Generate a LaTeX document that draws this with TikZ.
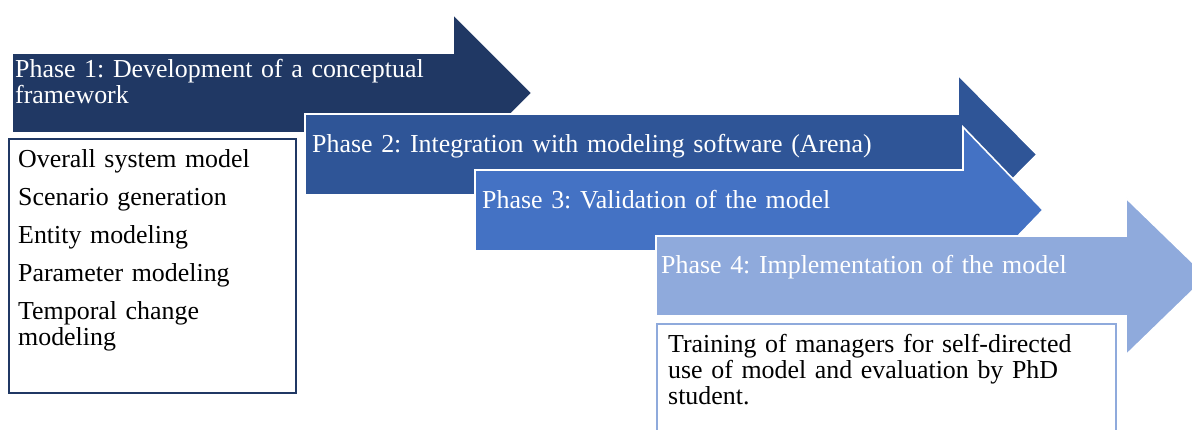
\documentclass[tikz,border=0pt]{standalone}
\usepackage{fontspec}
\setmainfont{Liberation Serif}
\frenchspacing
\definecolor{phaseA}{HTML}{203864}
\definecolor{phaseB}{HTML}{2F5597}
\definecolor{phaseC}{HTML}{4472C4}
\definecolor{phaseD}{HTML}{8FAADC}
\begin{document}
\begin{tikzpicture}[x=1pt,y=-1pt,
  phasearrow/.style={fill=#1,draw=white,line width=1.6pt,line join=miter},
  taskbox/.style={draw=#1,line width=1.8pt,fill=white},
  phasetext/.style={anchor=base west,inner sep=0pt,align=left,text width=640pt,
    text=#1,font=\fontsize{25.9}{26}\selectfont},
]
\useasboundingbox (0,0) rectangle (1192,430);
\begin{scope}
\clip (0,0) rectangle (1192,430);

% Phase 1 arrow
\filldraw[phasearrow=phaseA] (12,53) -- (453,53) -- (453,14) -- (532,93)
  -- (453,172) -- (453,133) -- (12,133) -- cycle;
\node[phasetext=white] (p1) at (15,77.5) {Phase 1: Development of a conceptual\\framework};

% Phase 2 arrow
\filldraw[phasearrow=phaseB] (305,114) -- (958,114) -- (958,75) -- (1037,154.5)
  -- (958,234) -- (958,195) -- (305,195) -- cycle;
\node[phasetext=white] (p2) at (312,152.5) {Phase 2: Integration with modeling software (Arena)};

% Phase 3 arrow
\filldraw[phasearrow=phaseC] (475,170) -- (963,170) -- (963,127) -- (1043,210)
  -- (963,293) -- (963,251) -- (475,251) -- cycle;
\node[phasetext=white] (p3) at (482,208.5) {Phase 3: Validation of the model};

% Phase 4 arrow
\filldraw[phasearrow=phaseD] (656,236) -- (1126,236) -- (1126,198) -- (1207,276.5)
  -- (1126,355) -- (1126,316) -- (656,316) -- cycle;
\node[phasetext=white] (p4) at (661,273.5) {Phase 4: Implementation of the model};

% Activity boxes
\draw[taskbox=phaseA] (9,139) rectangle (296,393);
\node[phasetext=black] (t1) at (18,168) {Overall system model\\[12pt]
  Scenario generation\\[12pt]
  Entity modeling\\[12pt]
  Parameter modeling\\[12pt]
  Temporal change\\modeling};

\draw[taskbox=phaseD] (657,324) rectangle (1116,445);
\node[phasetext=black] (t4) at (668,353) {Training of managers for self-directed\\
  use of model and evaluation by PhD\\student.};
\end{scope}
\end{tikzpicture}
\end{document}
